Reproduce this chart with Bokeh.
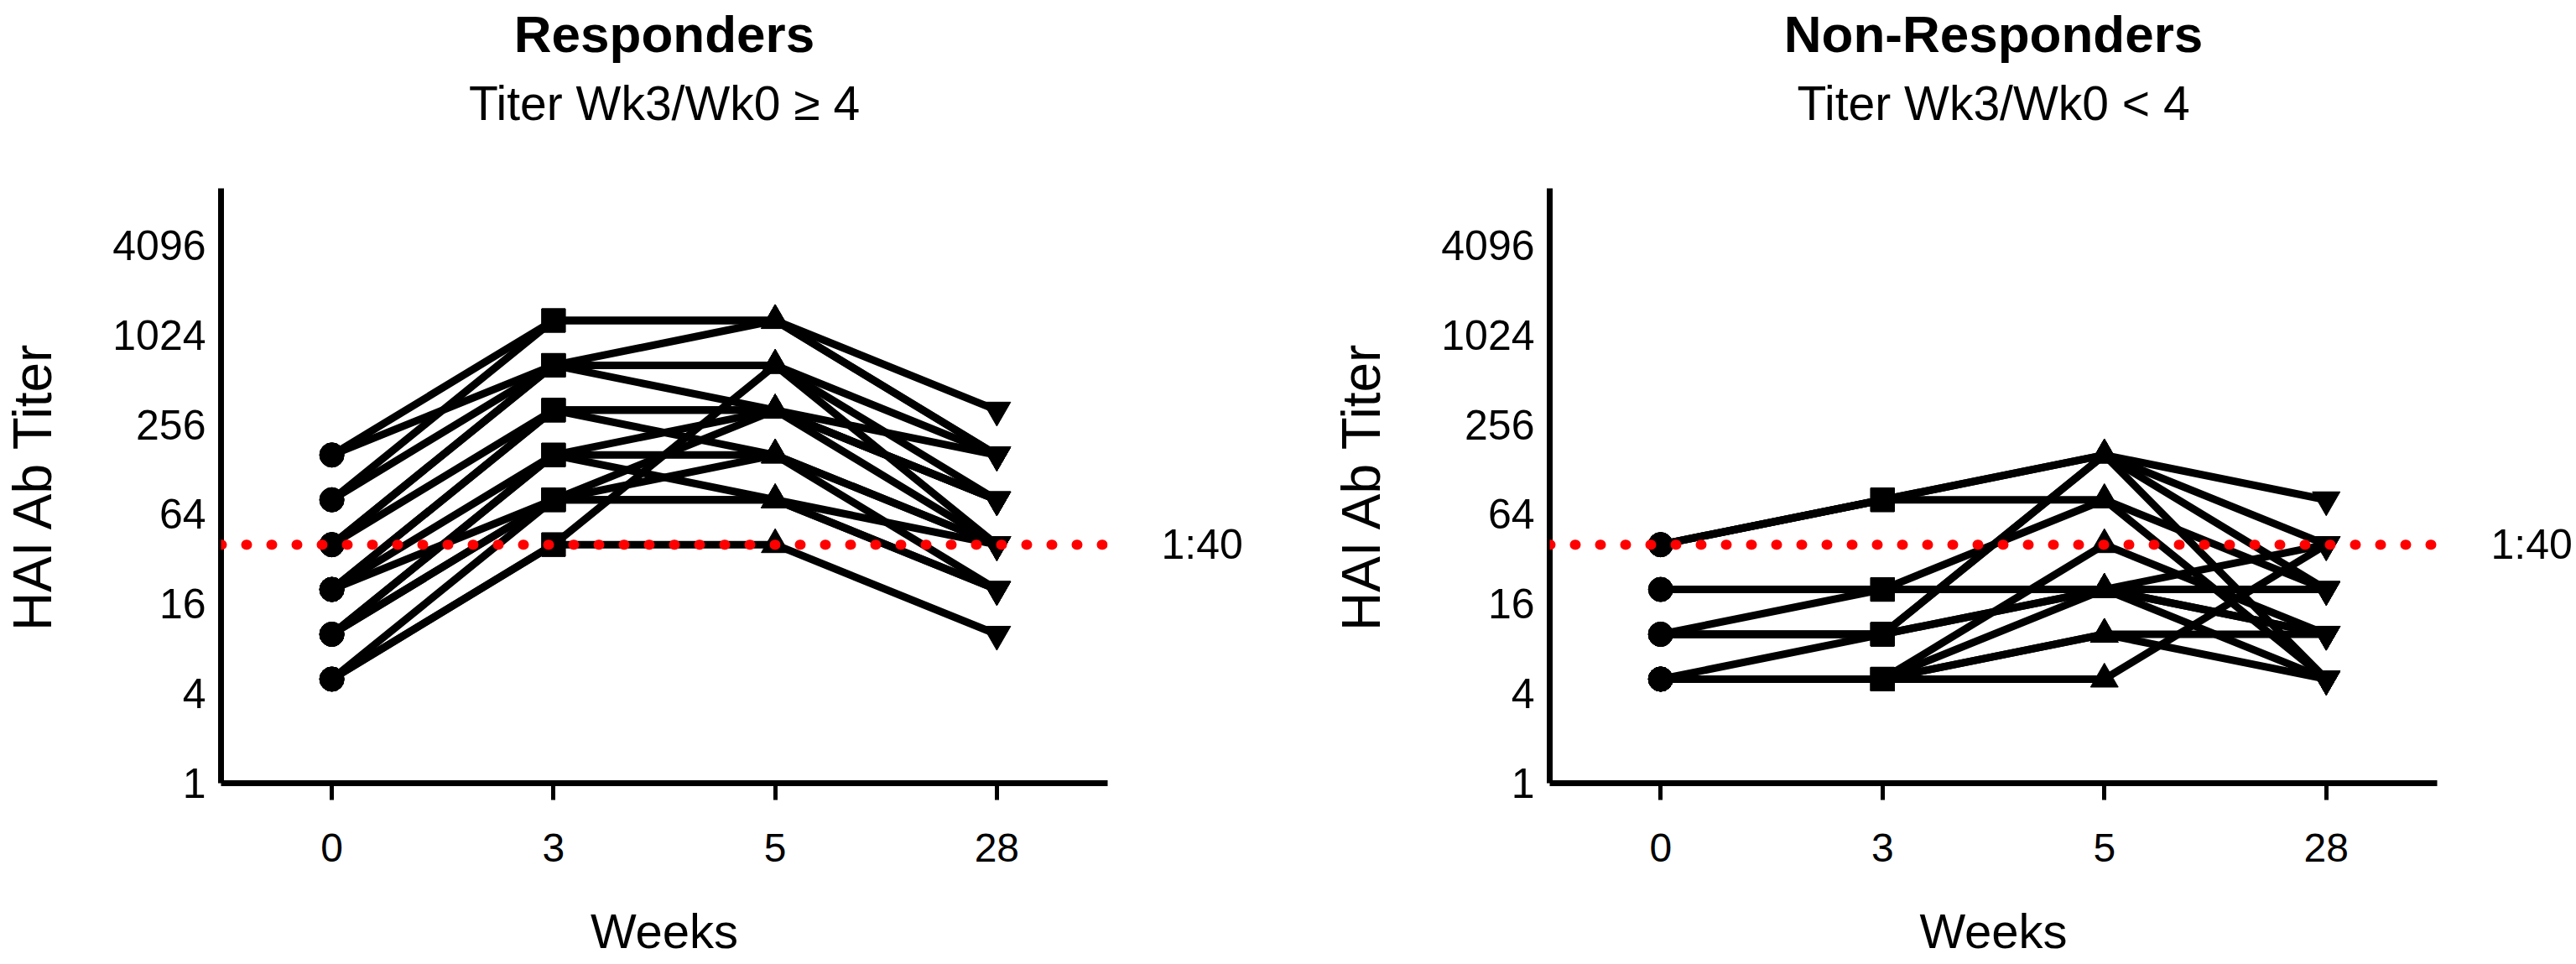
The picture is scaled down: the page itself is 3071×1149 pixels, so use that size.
from bokeh.plotting import figure
from bokeh.layouts import row
from bokeh.models import (Range1d, FactorRange, FixedTicker, Span, NumeralTickFormatter,
                          LogAxis, Title)
from bokeh.embed import file_html
from bokeh.resources import INLINE

# ---------------- data ----------------
weeks = ["0", "3", "5", "28"]
y_ticks = [1, 4, 16, 64, 256, 1024, 4096]
threshold = 40
threshold_label = "1:40"

resp_title = "Responders"
resp_subtitle = "Titer Wk3/Wk0 \u2265 4"
resp_w0 = [160, 80, 80, 40, 40, 40, 20, 20, 20, 10, 10, 10, 5, 5, 5, 10, 160, 20]
resp_w3 = [1280, 1280, 640, 640, 640, 320, 320, 320, 160, 160, 160, 80, 80, 40, 40, 80, 640, 80]
resp_w5 = [1280, 1280, 640, 1280, 320, 320, 320, 160, 320, 160, 80, 160, 80, 640, 40, 320, 640, 80]
resp_w28 = [320, 160, 160, 160, 80, 80, 40, 40, 80, 40, 20, 20, 20, 80, 10, 160, 40, 40]

non_title = "Non-Responders"
non_subtitle = "Titer Wk3/Wk0 < 4"
non_w0 = [40, 40, 40, 20, 20, 10, 10, 10, 5, 5, 5, 5, 5, 5, 10]
non_w3 = [80, 80, 80, 20, 20, 20, 10, 10, 10, 5, 5, 5, 5, 5, 10]
non_w5 = [160, 80, 160, 80, 20, 20, 160, 20, 20, 40, 20, 10, 10, 5, 160]
non_w28 = [80, 20, 20, 5, 20, 10, 5, 40, 5, 10, 10, 10, 5, 40, 40]

# ---------------- layout constants ----------------
FRAME_H = 709
Y_MAX = 2 ** 13.27
FONT = "Liberation Sans"


def make_panel(title, subtitle, w0, w3, w5, w28, border_right, frame_w):
    p = figure(
        x_range=FactorRange(factors=weeks),
        y_range=Range1d(1, Y_MAX),
        y_axis_type="log",
        frame_width=frame_w,
        frame_height=FRAME_H,
        min_border_left=262,
        min_border_right=border_right,
        min_border_top=224,
        min_border_bottom=200,
        output_backend="svg",
        toolbar_location=None,
        background_fill_color="white",
        border_fill_color="white",
    )
    p.outline_line_color = None
    p.xgrid.visible = False
    p.ygrid.visible = False

    # titles: panels stack outward from the frame; a blank spacer keeps
    # the subtitle well clear of the plot area
    p.add_layout(Title(text=" ", text_font=FONT, text_font_size="1px", standoff=53), "above")
    p.add_layout(Title(text=subtitle, align="center", text_font=FONT,
                       text_font_size="57px", text_font_style="normal",
                       text_color="black", standoff=27), "above")
    p.add_layout(Title(text=title, align="center", text_font=FONT,
                       text_font_size="62px", text_font_style="bold",
                       text_color="black", standoff=2), "above")

    # subject lines
    xs = [list(weeks) for _ in w0]
    ys = [[a, b, c, d] for a, b, c, d in zip(w0, w3, w5, w28)]
    p.multi_line(xs=xs, ys=ys, line_color="black", line_width=9)

    # markers per time point
    p.scatter(x=[weeks[0]] * len(w0), y=w0, marker="circle", size=29, color="black")
    p.scatter(x=[weeks[1]] * len(w3), y=w3, marker="square", size=28, color="black")
    p.scatter(x=[weeks[2]] * len(w5), y=w5, marker="triangle", size=33, color="black")
    p.scatter(x=[weeks[3]] * len(w28), y=w28, marker="inverted_triangle", size=33, color="black")

    # threshold line
    p.add_layout(Span(location=threshold, dimension="width", line_color="red",
                      line_width=12, line_dash="1 29", line_cap="round"))

    # threshold label as a right-hand axis with a single tick
    rax = LogAxis(ticker=FixedTicker(ticks=[threshold], minor_ticks=[]),
                  major_label_overrides={threshold: threshold_label})
    rax.axis_line_color = None
    rax.major_tick_line_color = None
    rax.minor_tick_line_color = None
    rax.major_label_standoff = 58
    rax.major_label_text_font = FONT
    rax.major_label_text_font_size = "50px"
    rax.major_label_text_color = "black"
    p.add_layout(rax, "right")

    # axes
    for ax in (p.xaxis[0], p.yaxis[0]):
        ax.axis_line_width = 7
        ax.axis_line_color = "black"
        ax.major_label_text_font = FONT
        ax.major_label_text_color = "black"
        ax.axis_label_text_font = FONT
        ax.axis_label_text_font_style = "normal"
        ax.axis_label_text_color = "black"
        ax.minor_tick_line_color = None

    xa = p.xaxis[0]
    xa.axis_label = "Weeks"
    xa.axis_label_text_font_size = "58px"
    xa.major_label_text_font_size = "48px"
    xa.major_tick_line_width = 5
    xa.major_tick_out = 20
    xa.major_tick_in = 0
    xa.major_label_standoff = 40
    xa.axis_label_standoff = 47

    ya = p.yaxis[0]
    ya.axis_label = "HAI Ab Titer"
    ya.axis_label_text_font_size = "64px"
    ya.major_label_text_font_size = "50px"
    ya.ticker = FixedTicker(ticks=y_ticks, minor_ticks=[])
    ya.formatter = NumeralTickFormatter(format="0")
    ya.major_tick_out = 0
    ya.major_tick_in = 0
    ya.major_label_standoff = 18
    ya.axis_label_standoff = 56
    return p


p1 = make_panel(resp_title, resp_subtitle, resp_w0, resp_w3, resp_w5, resp_w28, 264, 1057)
p2 = make_panel(non_title, non_subtitle, non_w0, non_w3, non_w5, non_w28, 152, 1058)

layout = row(p1, p2)
open("out.html", "w").write(file_html(layout, INLINE))
